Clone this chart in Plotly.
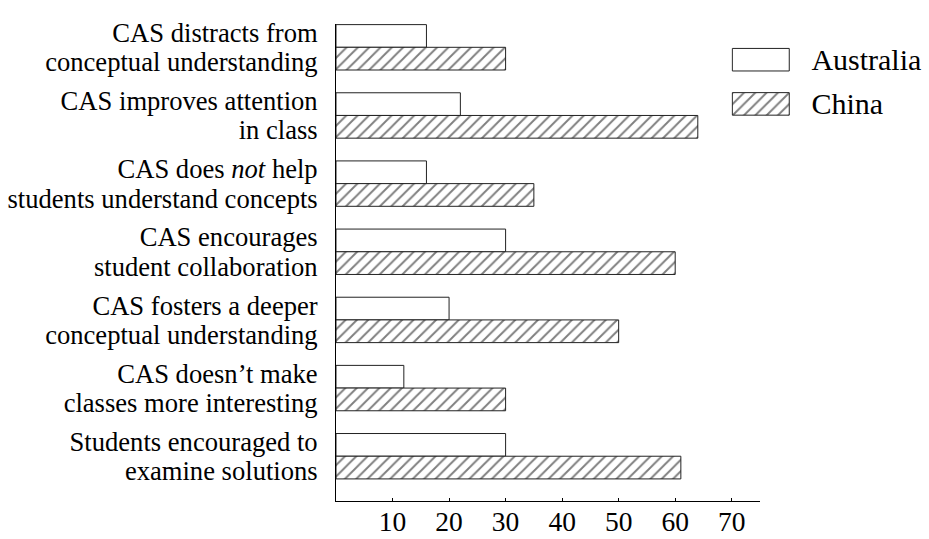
import plotly.graph_objects as go

# each category label is stored as its two printed lines
label_line1 = [
    "CAS distracts from",
    "CAS improves attention",
    "CAS does <i>not</i> help",
    "CAS encourages",
    "CAS fosters a deeper",
    "CAS doesn\u2019t make",
    "Students encouraged to",
]
label_line2 = [
    "conceptual understanding",
    "in class",
    "students understand concepts",
    "student collaboration",
    "conceptual understanding",
    "classes more interesting",
    "examine solutions",
]
australia = [16, 22, 16, 30, 20, 12, 30]
china = [30, 64, 35, 60, 50, 30, 61]
series_names = ["Australia", "China"]
x_ticks = [10, 20, 30, 40, 50, 60, 70]

FONT = "Liberation Serif"
W, H = 929, 539
ML, MR, MT, MB = 336, 10, 24, 38
PW = W - ML - MR
PH = H - MT - MB

def px_x(p):
    return (p - ML) / PW

def px_y(p):
    return (H - MB - p) / PH

keys = list(range(len(label_line1)))
LINE_OFF = 0.215  # half the line spacing, in category units
tick_positions = [k - LINE_OFF for k in keys] + [k + LINE_OFF for k in keys]
tick_texts = label_line1 + label_line2

outline = dict(color="#222222", width=1)
hatch = dict(fgcolor="black", bgcolor="white", size=8, solidity=0.24)

fig = go.Figure()
fig.add_trace(go.Bar(
    y=keys, x=australia, orientation="h", name=series_names[0],
    marker=dict(color="white", line=outline), showlegend=False,
))
fig.add_trace(go.Bar(
    y=keys, x=china, orientation="h", name=series_names[1],
    marker=dict(color="white", line=outline, pattern=dict(shape="/", **hatch)),
    showlegend=False,
))

# legend swatches on an auxiliary axis
fig.add_trace(go.Bar(
    y=series_names, x=[1, 1], orientation="h", base=0, width=0.51,
    marker=dict(color="white", line=outline,
                pattern=dict(shape=["", "/"], **hatch)),
    xaxis="x2", yaxis="y2", showlegend=False, hoverinfo="skip",
))

fig.update_layout(
    width=W, height=H,
    margin=dict(l=ML, r=MR, t=MT, b=MB, autoexpand=False),
    paper_bgcolor="white", plot_bgcolor="rgba(0,0,0,0)",
    barmode="group", bargap=0.334, bargroupgap=0,
    font=dict(family=FONT, color="black"),
    xaxis=dict(
        domain=[0, px_x(760)], range=[0, 75], automargin=False,
        tickmode="array", tickvals=x_ticks, ticktext=[str(v) for v in x_ticks],
        ticks="inside", ticklen=3, tickcolor="black",
        showline=True, linecolor="black", linewidth=1,
        showgrid=False, zeroline=False,
        tickfont=dict(size=27.5, family=FONT),
        ticklabelstandoff=-4,
    ),
    yaxis=dict(
        domain=[0, 1], type="linear", range=[6.657, -0.342], automargin=False,
        tickmode="array", tickvals=tick_positions, ticktext=tick_texts,
        ticks="", showline=True, linecolor="black", linewidth=1,
        showgrid=False, zeroline=False,
        tickfont=dict(size=26.6, family=FONT),
        ticklabelstandoff=12,
    ),
    xaxis2=dict(
        domain=[px_x(731.2), px_x(790.4)], range=[-0.02, 1.02],
        anchor="y2", visible=False, fixedrange=True, automargin=False,
    ),
    yaxis2=dict(
        domain=[px_y(126.0), px_y(37.6)], range=[1.5, -0.5],
        type="category", anchor="x2", side="right", automargin=False,
        showline=False, showgrid=False, zeroline=False, ticks="",
        tickfont=dict(size=30, family=FONT), ticklabelstandoff=20,
        fixedrange=True,
    ),
)

fig.write_html("out.html", config={"displayModeBar": False},
               post_script="document.body.style.margin='0';")
